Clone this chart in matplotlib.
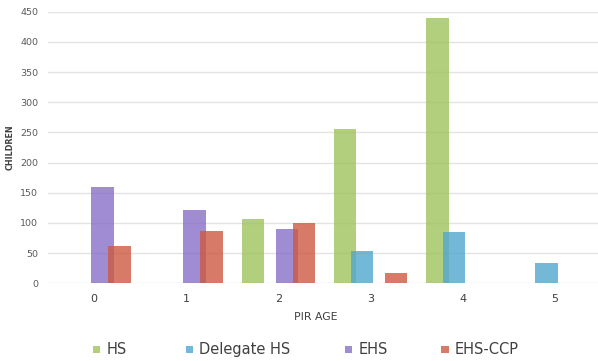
import matplotlib
matplotlib.use("Agg")
import matplotlib.pyplot as plt
import matplotlib.patches as patches
import numpy as np

# data
ages = ["0", "1", "2", "3", "4", "5"]
hs = [0, 0, 107, 256, 439, 0]
delegate_hs = [0, 0, 0, 53, 85, 33]
ehs = [160, 121, 90, 0, 0, 0]
ehs_ccp = [62, 87, 100, 17, 0, 0]

names = ["HS", "Delegate HS", "EHS", "EHS-CCP"]
series = [hs, delegate_hs, ehs, ehs_ccp]
colors = ["#9fc35c", "#51a6ce", "#886fc9", "#cd5941"]

fig = plt.figure(figsize=(5.98, 3.61), dpi=100)
ax = fig.add_axes([0.080, 0.2152, 0.925, 0.7524])

x = np.arange(len(ages))
step = 0.184
width = 0.244
for i, (vals, c) in enumerate(zip(series, colors)):
    ax.bar(x + (i - 1.5) * step, vals, width, color=c, alpha=0.8,
           linewidth=0, zorder=3)

ax.set_xlim(-0.5, 5.5)
ax.set_ylim(0, 450)
ax.set_yticks(np.arange(0, 451, 50))
ax.set_xticks(x)
ax.set_xticklabels(ages)
ax.grid(axis="y", color="#e3e3e3", linewidth=1.0, zorder=0)
for s in ax.spines.values():
    s.set_visible(False)
ax.tick_params(axis="both", length=0)
ax.tick_params(axis="y", labelsize=6.8, labelcolor="#595959", pad=7)
ax.tick_params(axis="x", labelsize=8, labelcolor="#404040", pad=8)
ax.set_ylabel("CHILDREN", fontsize=5.8, color="#404040", fontweight="bold")
ax.yaxis.set_label_coords(-0.06, 0.5)
ax.set_xlabel("PIR AGE", fontsize=7.8, color="#404040", labelpad=4)
ax.xaxis.set_label_coords(0.485, -0.105)

# legend along the bottom
mark_x = [0.156, 0.311, 0.577, 0.738]
for mx, name, c in zip(mark_x, names, colors):
    fig.add_artist(patches.Rectangle((mx, 0.022), 0.012, 0.02,
                                     transform=fig.transFigure,
                                     facecolor=c, alpha=0.8, linewidth=0))
    fig.text(mx + 0.022, 0.032, name, fontsize=10.5, color="#404040",
             va="center", ha="left")

plt.savefig("out.png", dpi=100)
